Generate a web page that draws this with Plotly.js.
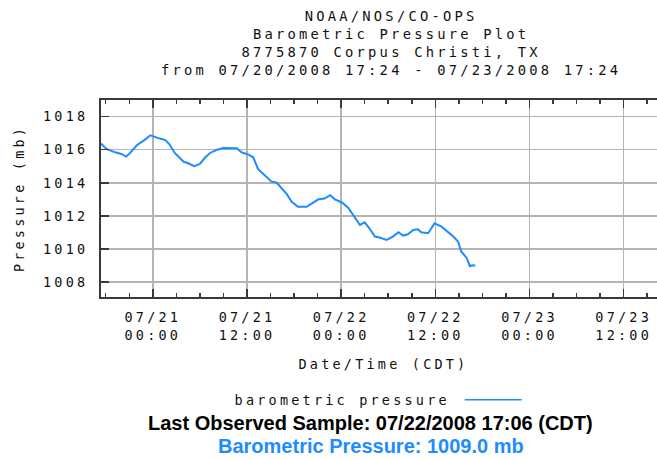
<!DOCTYPE html>
<html><head><meta charset="utf-8">
<script src="https://cdn.plot.ly/plotly-3.0.1.min.js"></script>
<style>
html,body{margin:0;padding:0;overflow:hidden;background:#fff}
#chart{width:680px;height:460px}
#chart svg text{letter-spacing:3.2px}
#chart g.annotation[data-index="2"] text,#chart g.annotation[data-index="3"] text{letter-spacing:0}
</style></head><body><div id="chart"></div>
<script>
const times = [
'2008-07-20 17:24','2008-07-20 18:06','2008-07-20 19:12','2008-07-20 20:00','2008-07-20 20:36','2008-07-20 21:06',
'2008-07-20 22:00','2008-07-20 22:48','2008-07-20 23:42','2008-07-21 00:06','2008-07-21 00:54','2008-07-21 01:36',
'2008-07-21 02:06','2008-07-21 02:48','2008-07-21 03:54','2008-07-21 04:30','2008-07-21 05:18','2008-07-21 06:00',
'2008-07-21 06:42','2008-07-21 07:18','2008-07-21 08:06','2008-07-21 09:00','2008-07-21 09:48','2008-07-21 10:42',
'2008-07-21 11:18','2008-07-21 12:12','2008-07-21 12:48','2008-07-21 13:24','2008-07-21 14:18','2008-07-21 15:06',
'2008-07-21 15:48','2008-07-21 16:30','2008-07-21 17:06','2008-07-21 17:42','2008-07-21 18:30','2008-07-21 19:36',
'2008-07-21 20:24','2008-07-21 21:06','2008-07-21 21:54','2008-07-21 22:36','2008-07-21 23:12','2008-07-22 00:06',
'2008-07-22 00:54','2008-07-22 01:30','2008-07-22 02:24','2008-07-22 03:00','2008-07-22 03:36','2008-07-22 04:18',
'2008-07-22 04:54','2008-07-22 05:48','2008-07-22 06:36','2008-07-22 07:18','2008-07-22 07:54','2008-07-22 08:30',
'2008-07-22 09:12','2008-07-22 09:48','2008-07-22 10:12','2008-07-22 11:06','2008-07-22 11:30','2008-07-22 11:54',
'2008-07-22 12:48','2008-07-22 13:36','2008-07-22 14:18','2008-07-22 14:54','2008-07-22 15:18','2008-07-22 16:00',
'2008-07-22 16:24','2008-07-22 16:42','2008-07-22 17:06'];
const pressure = [
1016.37,1016.04,1015.84,1015.74,1015.58,1015.80,
1016.28,1016.53,1016.87,1016.79,1016.67,1016.58,
1016.34,1015.80,1015.28,1015.18,1015.00,1015.14,
1015.54,1015.80,1015.98,1016.10,1016.08,1016.08,
1015.84,1015.70,1015.54,1014.84,1014.44,1014.08,
1014.00,1013.60,1013.30,1012.85,1012.55,1012.55,
1012.81,1013.00,1013.05,1013.25,1013.00,1012.81,
1012.49,1012.05,1011.45,1011.61,1011.25,1010.75,
1010.69,1010.55,1010.75,1011.01,1010.81,1010.89,
1011.15,1011.19,1011.01,1010.95,1011.25,1011.55,
1011.35,1011.05,1010.75,1010.45,1009.85,1009.46,
1008.96,1009.02,1009.00];
const xTickVals = ['2008-07-21 00:00','2008-07-21 12:00','2008-07-22 00:00','2008-07-22 12:00','2008-07-23 00:00','2008-07-23 12:00'];
const xTickText = ['07/21<br>00:00','07/21<br>12:00','07/22<br>00:00','07/22<br>12:00','07/23<br>00:00','07/23<br>12:00'];
const yTickVals = [1008,1010,1012,1014,1016,1018];
const yTickText = ['1008','1010','1012','1014','1016','1018'];
const xRange = ['2008-07-20 17:24','2008-07-23 17:24'];
const yRange = [1007.1,1019.0];
const titleLines = ['NOAA/NOS/CO-OPS','Barometric Pressure Plot','8775870 Corpus Christi, TX','from 07/20/2008 17:24 - 07/23/2008 17:24'];
const seriesName = 'barometric pressure';
const xTitle = 'Date/Time (CDT)';
const yTitle = 'Pressure (mb)';
const lastObserved = 'Last Observed Sample: 07/22/2008 17:06 (CDT)';
const lastValue = 'Barometric Pressure: 1009.0 mb';

const W = 680, H = 460;
const L = 101, R = 666.4, T = 99.5, B = 297.5;
const px = x => (x - L) / (R - L);
const py = y => (B - y) / (B - T);
const mono = 'DejaVu Sans Mono, monospace';
const blue = '#1e8cff';
const axisCol = '#3a3a3a';

const trace = {x: times, y: pressure, type: 'scatter', mode: 'lines', name: seriesName,
  line: {color: blue, width: 2}, showlegend: false};

const layout = {
  width: W, height: H,
  margin: {l: L, r: W - R, t: T, b: H - B, pad: 0},
  paper_bgcolor: '#fff', plot_bgcolor: '#fff',
  font: {family: mono, size: 13.5, color: '#111'},
  xaxis: {type: 'date', range: xRange, tickmode: 'array', tickvals: xTickVals, ticktext: xTickText,
    showgrid: true, gridcolor: '#b4b4b4', gridwidth: 1.5, zeroline: false,
    showline: true, linecolor: axisCol, linewidth: 2, mirror: 'allticks',
    ticks: 'inside', ticklen: 8, tickwidth: 1.5, tickcolor: axisCol, ticklabelstandoff: 7,
    minor: {tickmode: 'linear', tick0: '2008-07-21 00:00', dtick: 10800000, ticks: 'inside', ticklen: 4, tickwidth: 1.5, tickcolor: axisCol, showgrid: false},
    title: {text: xTitle, font: {family: mono, size: 13.5, color: '#111'}, standoff: 18},
    tickfont: {family: mono, size: 13.5, color: '#111'}, fixedrange: true},
  yaxis: {range: yRange, tickmode: 'array', tickvals: yTickVals, ticktext: yTickText,
    showgrid: true, gridcolor: '#b4b4b4', gridwidth: 1.5, zeroline: false,
    showline: true, linecolor: axisCol, linewidth: 2, mirror: 'allticks',
    ticks: 'inside', ticklen: 8, tickwidth: 1.5, tickcolor: axisCol, ticklabelstandoff: 8,
    title: {text: yTitle, font: {family: mono, size: 13.5, color: '#111'}, standoff: 28},
    tickfont: {family: mono, size: 13.5, color: '#111'}, fixedrange: true},
  annotations: [
    {text: titleLines.join('<br>'), xref: 'paper', yref: 'paper', x: px(391), y: py(42), xanchor: 'center', yanchor: 'middle',
     showarrow: false, font: {family: mono, size: 13.8, color: '#111'}, align: 'center'},
    {text: seriesName, xref: 'paper', yref: 'paper', x: px(342), y: py(401), xanchor: 'center', yanchor: 'middle',
     showarrow: false, font: {family: mono, size: 13.5, color: '#111'}},
    {text: '<b>' + lastObserved + '</b>', xref: 'paper', yref: 'paper', x: px(371), y: py(424), xanchor: 'center', yanchor: 'middle',
     showarrow: false, font: {family: 'Liberation Sans, Arial, sans-serif', size: 20, color: '#000'}},
    {text: '<b>' + lastValue + '</b>', xref: 'paper', yref: 'paper', x: px(371), y: py(447.5), xanchor: 'center', yanchor: 'middle',
     showarrow: false, font: {family: 'Liberation Sans, Arial, sans-serif', size: 20, color: blue}}
  ],
  shapes: [
    {type: 'line', xref: 'paper', yref: 'paper', x0: px(465), x1: px(522), y0: py(400.7), y1: py(400.7),
     line: {color: blue, width: 1.6}}
  ]
};

Plotly.newPlot('chart', [trace], layout, {displayModeBar: false, staticPlot: true});
</script></body></html>
